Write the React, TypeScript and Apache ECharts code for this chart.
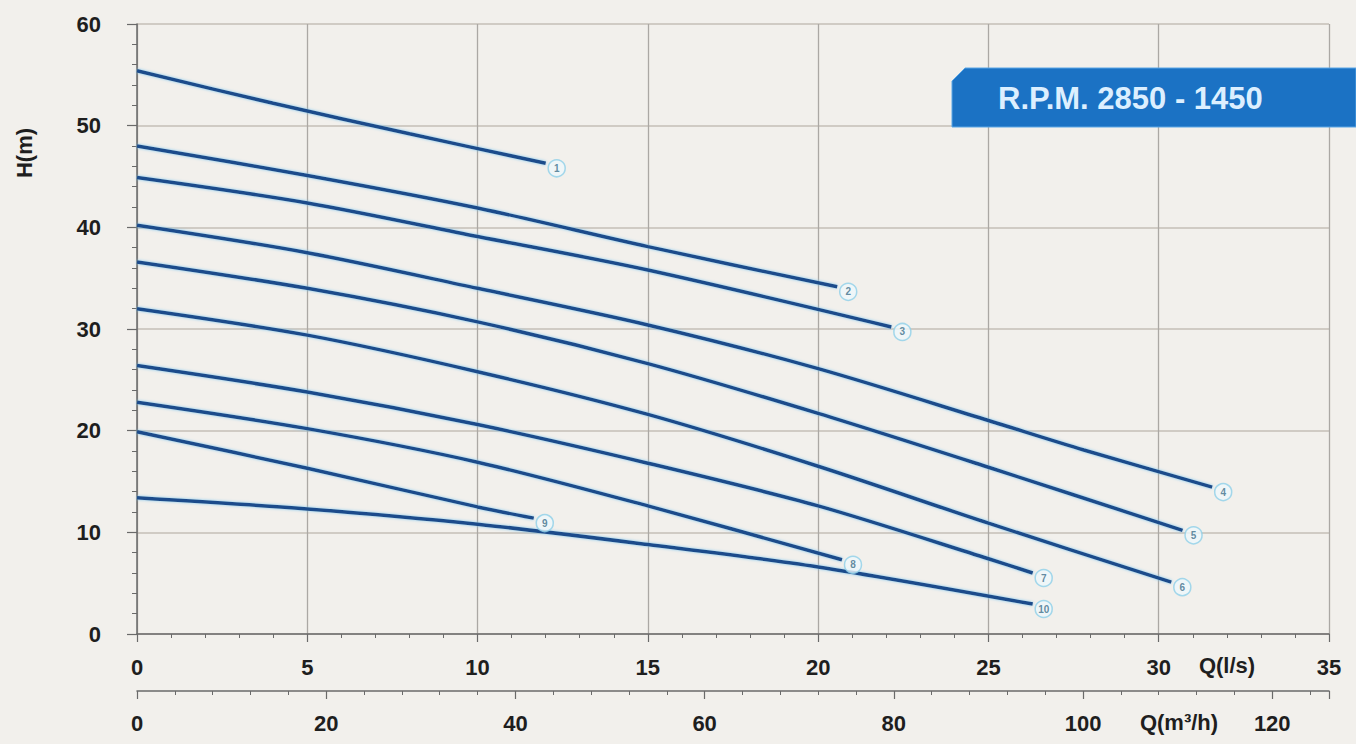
import React, { useEffect, useRef } from 'react';
import * as echarts from 'echarts';

// Flow axes
const flowLsMax = 35;
const flowM3hMax = 126;
const headMax = 60;

// Curves: [Q (l/s), H (m)]
const curve1 = [[0, 55.4], [4, 52.2], [8, 49.2], [12, 46.3]];
const curve2 = [[0, 48.0], [5, 45.1], [10, 41.9], [15, 38.1], [20.56, 34.15]];
const curve3 = [[0, 44.9], [5, 42.4], [10, 39.1], [15, 35.8], [22.15, 30.2]];
const curve4 = [[0, 40.2], [5, 37.5], [10, 34.0], [15, 30.4], [20, 26.1], [25, 21.0], [27.8, 18.1], [31.57, 14.45]];
const curve5 = [[0, 36.6], [5, 34.0], [10, 30.7], [15, 26.6], [20, 21.7], [25, 16.4], [30.7, 10.2]];
const curve6 = [[0, 32.0], [5, 29.4], [10, 25.8], [15, 21.6], [20, 16.5], [25, 10.9], [30.37, 5.1]];
const curve7 = [[0, 26.4], [5, 23.8], [10, 20.6], [15, 16.8], [20, 12.6], [25, 7.4], [26.3, 6.0]];
const curve8 = [[0, 22.8], [5, 20.2], [10, 16.9], [15, 12.6], [20.7, 7.3]];
const curve9 = [[0, 19.9], [5, 16.3], [10, 12.5], [11.65, 11.4]];
const curve10 = [[0, 13.4], [5, 12.3], [10, 10.8], [15, 8.8], [20, 6.6], [26.3, 2.95]];

const curves = [curve1, curve2, curve3, curve4, curve5, curve6, curve7, curve8, curve9, curve10];
const curveLabels = ['1', '2', '3', '4', '5', '6', '7', '8', '9', '10'];

const FONT = '"Liberation Sans", Arial, Helvetica, sans-serif';
const AXIS_COLOR = '#6a6a6a';

export default function App() {
  const ref = useRef<HTMLDivElement>(null);

  useEffect(() => {
    if (!ref.current) return;
    const chart = echarts.init(ref.current, undefined, { renderer: 'svg' });

    const lineSeries = curves.map((c, i) => ({
      type: 'line',
      name: curveLabels[i],
      xAxisIndex: 0,
      yAxisIndex: 0,
      data: c,
      smooth: 0.3,
      showSymbol: false,
      symbol: 'none',
      z: 3,
      lineStyle: {
        color: '#1d4c8b',
        width: 3.5,
        shadowColor: 'rgba(120,195,240,0.9)',
        shadowBlur: 3,
      },
    }));

    const endPoints = curves.map((c, i) => ({
      value: c[c.length - 1],
      name: curveLabels[i],
    }));

    const labelStyle = {
      fontSize: 22,
      fontWeight: 'bold',
      color: '#1e1e1e',
      fontFamily: FONT,
    };

    const option: any = {
      animation: false,
      backgroundColor: '#f2f0ec',
      grid: { left: 137, right: 27, top: 24, bottom: 110, containLabel: false },
      xAxis: [
        {
          type: 'value',
          min: 0,
          max: flowLsMax,
          interval: 5,
          position: 'bottom',
          axisLine: { show: true, onZero: false, lineStyle: { color: AXIS_COLOR, width: 1.5 } },
          axisTick: { show: true, length: 8, lineStyle: { color: AXIS_COLOR, width: 1.2 } },
          minorTick: { show: true, splitNumber: 5, length: 4, lineStyle: { color: AXIS_COLOR, width: 1 } },
          splitLine: { show: true, lineStyle: { color: '#aba8a4', width: 1.3 } },
          axisLabel: { margin: 22, ...labelStyle },
        },
        {
          type: 'value',
          min: 0,
          max: flowM3hMax,
          interval: 20,
          position: 'bottom',
          offset: 57,
          axisLine: { show: true, onZero: false, lineStyle: { color: AXIS_COLOR, width: 1.5 } },
          axisTick: { show: true, length: 8, lineStyle: { color: AXIS_COLOR, width: 1.2 } },
          minorTick: { show: true, splitNumber: 5, length: 4, lineStyle: { color: AXIS_COLOR, width: 1 } },
          splitLine: { show: false },
          axisLabel: {
            margin: 21,
            ...labelStyle,
            formatter: (v: number) => (v % 20 === 0 ? String(v) : ''),
          },
        },
      ],
      yAxis: {
        type: 'value',
        min: 0,
        max: headMax,
        interval: 10,
        axisLine: { show: true, onZero: false, lineStyle: { color: AXIS_COLOR, width: 1.5 } },
        axisTick: { show: true, length: 10, lineStyle: { color: AXIS_COLOR, width: 1.2 } },
        minorTick: { show: true, splitNumber: 5, length: 5, lineStyle: { color: AXIS_COLOR, width: 1 } },
        splitLine: { show: true, lineStyle: { color: '#d0cbc4', width: 2 } },
        axisLabel: { margin: 36, ...labelStyle },
      },
      series: [
        ...lineSeries,
        {
          type: 'scatter',
          xAxisIndex: 0,
          yAxisIndex: 0,
          data: endPoints,
          symbol: 'circle',
          symbolSize: 17,
          symbolOffset: [11, 5],
          z: 5,
          itemStyle: {
            color: '#eef8fb',
            borderColor: '#8fd0e8',
            borderWidth: 1.5,
          },
          label: {
            show: true,
            position: 'inside',
            formatter: (p: any) => p.name,
            fontSize: 10,
            fontWeight: 'bold',
            color: '#3c6f8a',
            fontFamily: FONT,
          },
        },
      ],
      graphic: [
        {
          type: 'text',
          x: 24,
          y: 153,
          rotation: Math.PI / 2,
          style: {
            text: 'H(m)',
            font: `bold 22px ${FONT}`,
            fill: '#1e1e1e',
            align: 'center',
            verticalAlign: 'middle',
            textAlign: 'center',
            textVerticalAlign: 'middle',
          },
        },
        {
          type: 'text',
          x: 1227,
          y: 665,
          style: {
            text: 'Q(l/s)',
            font: `bold 22px ${FONT}`,
            fill: '#1e1e1e',
            align: 'center',
            verticalAlign: 'middle',
            textAlign: 'center',
            textVerticalAlign: 'middle',
          },
        },
        {
          type: 'text',
          x: 1179,
          y: 722,
          style: {
            text: 'Q(m³/h)',
            font: `bold 22px ${FONT}`,
            fill: '#1e1e1e',
            align: 'center',
            verticalAlign: 'middle',
            textAlign: 'center',
            textVerticalAlign: 'middle',
          },
        },
        {
          type: 'polygon',
          shape: { points: [[952, 81], [965, 68], [1356, 68], [1356, 127], [952, 127]] },
          style: { fill: '#1b72c4', stroke: '#5aa6e6', lineWidth: 1 },
          z: 10,
        },
        {
          type: 'text',
          x: 998,
          y: 98,
          z: 11,
          style: {
            text: 'R.P.M. 2850 - 1450',
            font: `bold 31px ${FONT}`,
            fill: '#dcefff',
            align: 'left',
            verticalAlign: 'middle',
            textAlign: 'left',
            textVerticalAlign: 'middle',
          },
        },
      ],
    };

    chart.setOption(option);
    return () => {
      chart.dispose();
    };
  }, []);

  return (
    <div
      ref={ref}
      style={{ position: 'absolute', left: 0, top: 0, width: 1356, height: 744 }}
    />
  );
}
